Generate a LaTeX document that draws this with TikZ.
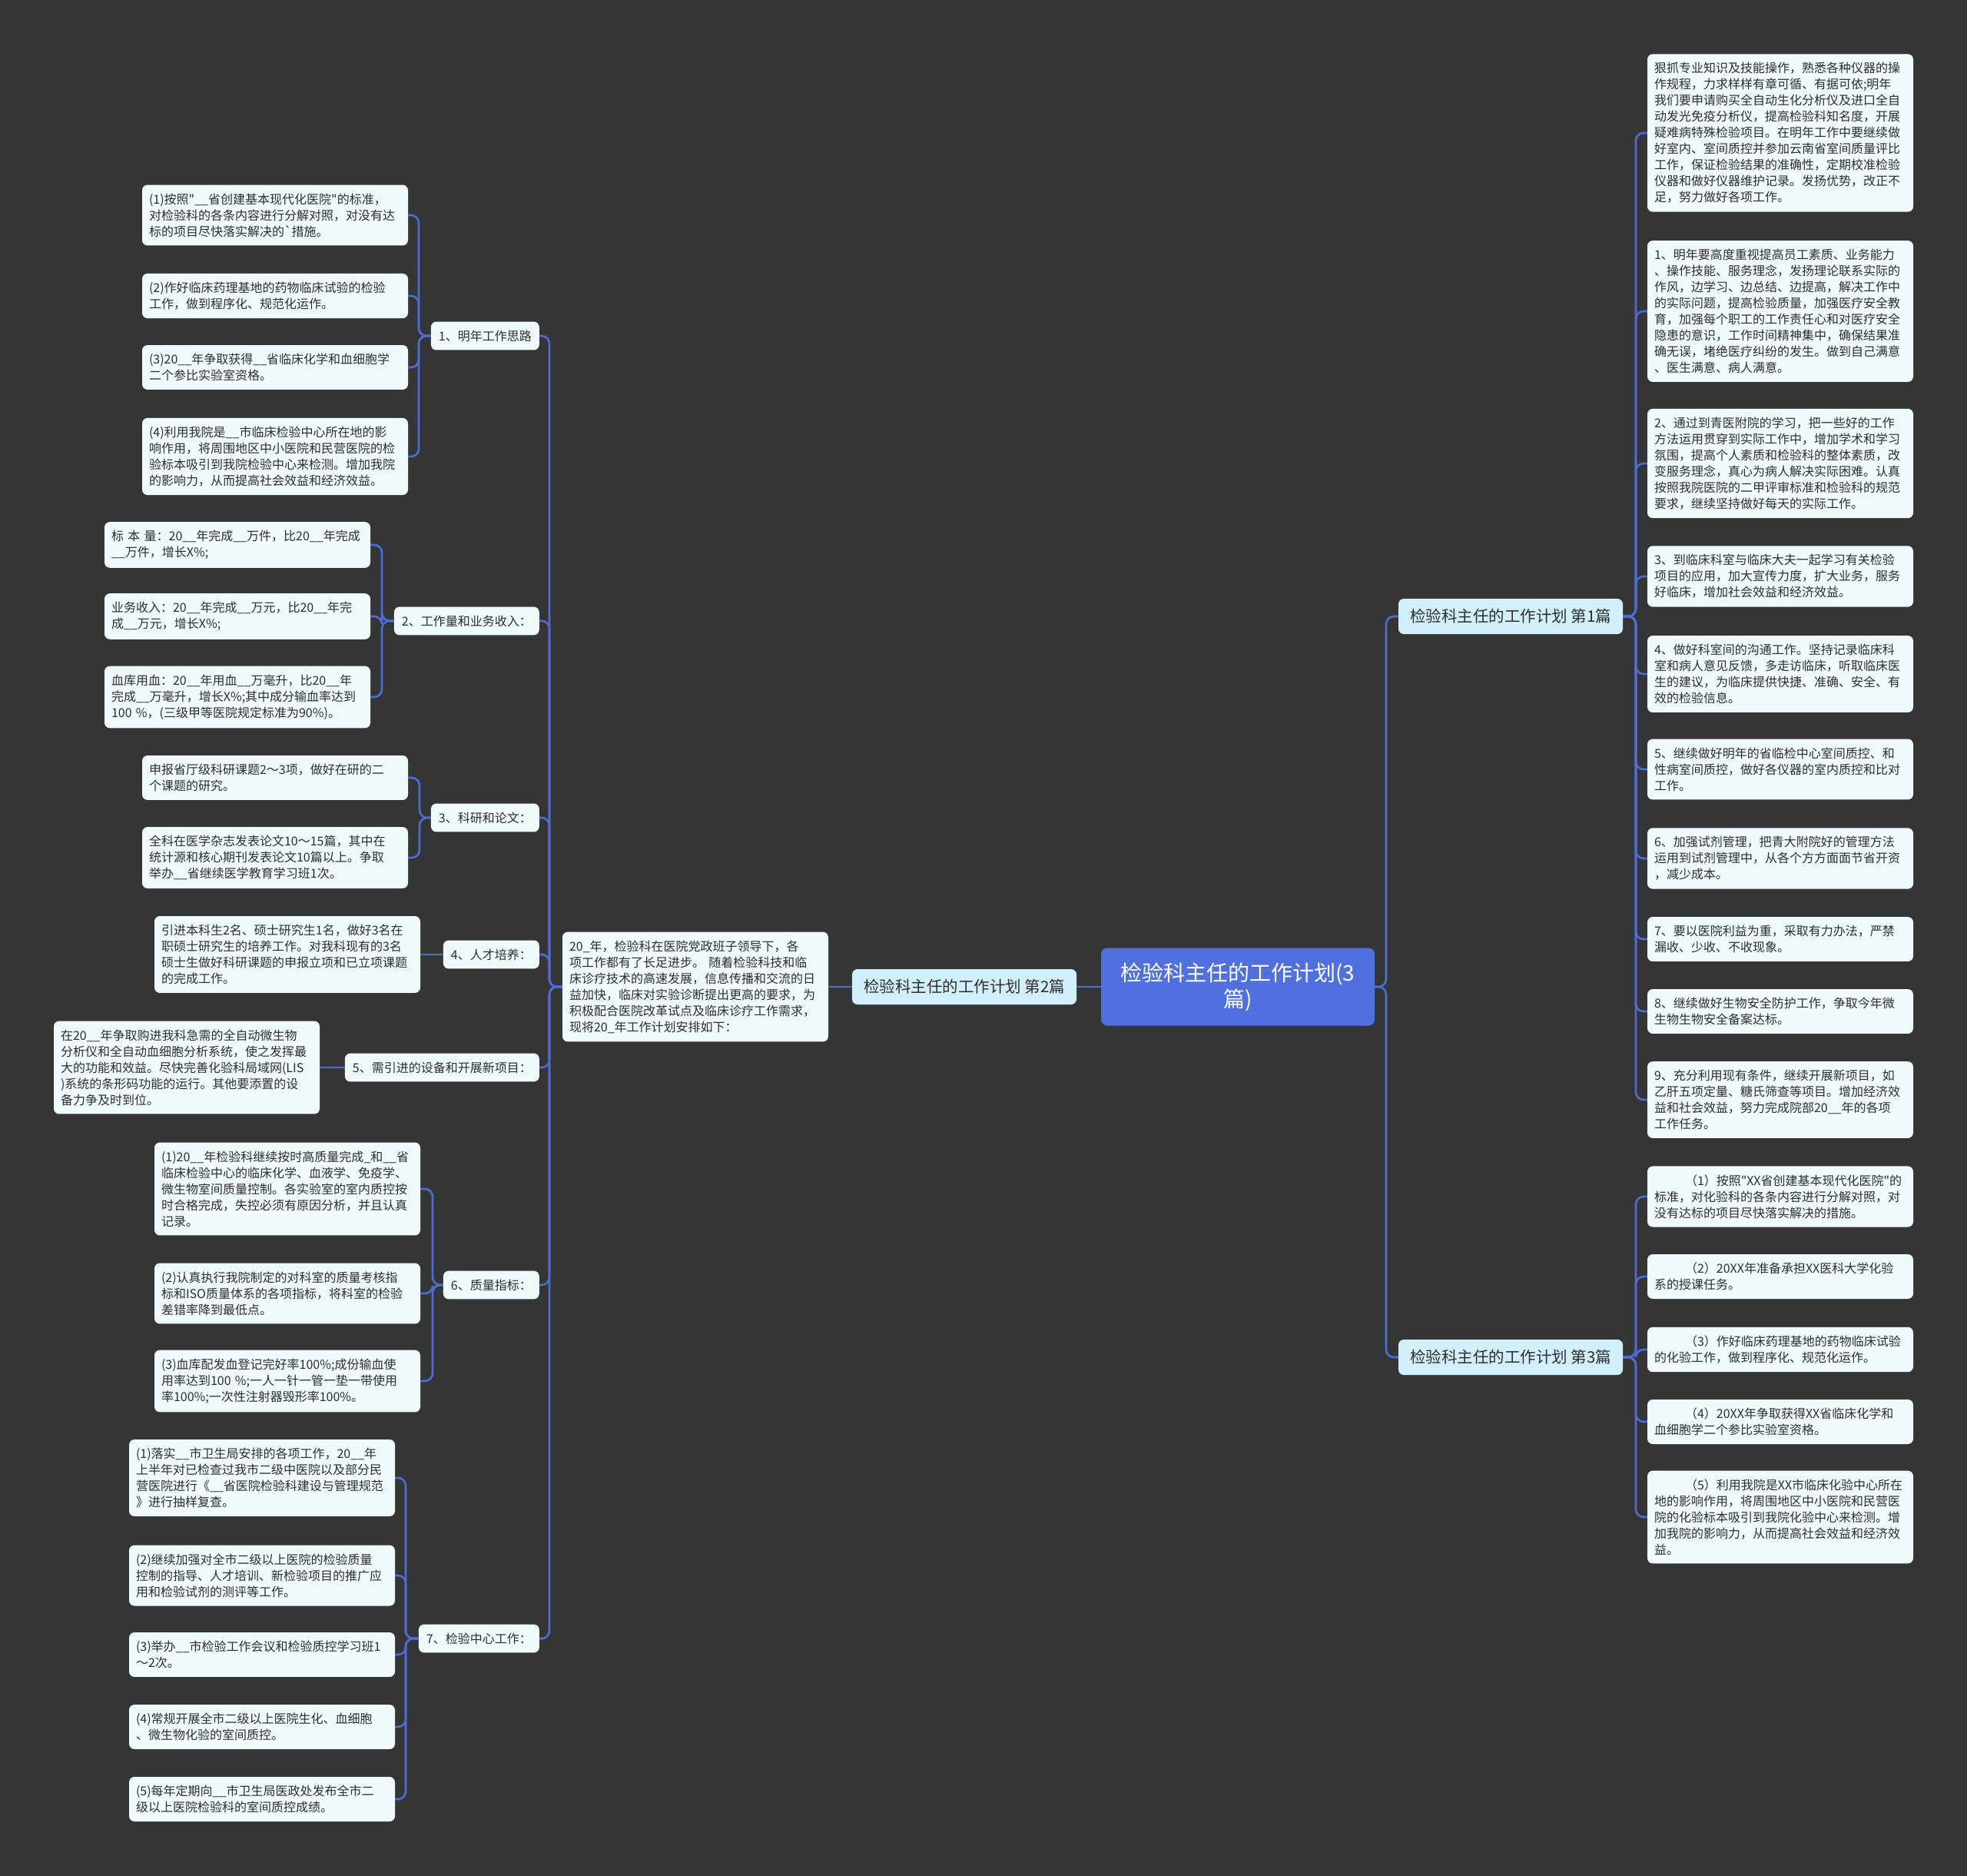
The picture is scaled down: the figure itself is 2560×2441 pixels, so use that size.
\documentclass[tikz,border=0pt]{standalone}
\usepackage{fontspec}
\setmainfont{Noto Sans CJK SC}
\newfontfamily\cjkfont{Noto Sans CJK SC}
\usepackage{tikz}
\usepackage{xcolor}
\definecolor{bgdark}{RGB}{54,53,53}
\definecolor{leaffill}{RGB}{240,250,252}
\definecolor{branchfill}{RGB}{210,240,251}
\definecolor{rootblue}{RGB}{80,112,224}
\definecolor{linkblue}{RGB}{76,108,214}
\definecolor{inktext}{RGB}{45,45,45}
\newcommand\leaffont{\cjkfont\fontsize{16}{21}\selectfont\hyphenpenalty=10000}
\newcommand\branchfont{\cjkfont\fontsize{20.5}{24}\selectfont}
\newcommand\rootfont{\cjkfont\fontsize{28}{34}\selectfont}

\begin{document}
\begin{tikzpicture}[x=1pt, y=-1pt, leaf/.style={fill=leaffill,text=inktext,rounded corners=7pt,text width=328pt,align=left,inner xsep=9pt,inner ysep=11pt,font=\leaffont}, topic/.style={fill=leaffill,text=inktext,rounded corners=7pt,inner xsep=10pt,inner ysep=11pt,font=\leaffont,anchor=east}, branch/.style={fill=branchfill,text=inktext,rounded corners=7pt,minimum width=292pt,minimum height=46pt,font=\branchfont}, root/.style={fill=rootblue,text=white,rounded corners=8pt,minimum width=356pt,minimum height=101pt,align=center,font=\rootfont}, link/.style={draw=linkblue,line width=2.6pt,rounded corners=10pt}]
  \useasboundingbox (0,0) rectangle (2560,2441);
  \fill[bgdark] (0,0) rectangle (2560,2441);
  % trunks and brackets
  \coordinate (ltrunk) at (715,0); \coordinate (rtrunk) at (1804,0);
  \coordinate (g1) at (545,0); \coordinate (g2) at (497,0); \coordinate (g3) at (546,0);
  \coordinate (g6) at (563,0); \coordinate (g7) at (528,0); \coordinate (gr) at (2129,0);
  % centre
  \node[root] (root) at (1611,1284) {检验科主任的工作计划(3\\篇)};
  \node[branch] (plan2) at (1255,1284) {检验科主任的工作计划 第2篇};
  \node[branch] (plan1) at (1966,802) {检验科主任的工作计划 第1篇};
  \node[branch] (plan3) at (1966,1766) {检验科主任的工作计划 第3篇};
  \node[leaf] (intro) at (905,1284) {20\_年，检验科在医院党政班子领导下，各\\项工作都有了长足进步。~随着检验科技和临\\床诊疗技术的高速发展，信息传播和交流的日\\益加快，临床对实验诊断提出更高的要求，为\\积极配合医院改革试点及临床诊疗工作需求，\\现将20\_年工作计划安排如下：};
  % left topics
  \node[topic] (idea) at (702,437) {1、明年工作思路};
  \node[topic] (load) at (702,808) {2、工作量和业务收入：};
  \node[topic] (res) at (702,1064) {3、科研和论文：};
  \node[topic] (tal) at (702,1242) {4、人才培养：};
  \node[topic] (equ) at (702,1389) {5、需引进的设备和开展新项目：};
  \node[topic] (qual) at (702,1672) {6、质量指标：};
  \node[topic] (cen) at (702,2132) {7、检验中心工作：};
  % left leaves
  \node[leaf] (idea1) at (358,280) {(1)按照"\_\_省创建基本现代化医院"的标准，\\对检验科的各条内容进行分解对照，对没有达\\标的项目尽快落实解决的`措施。};
  \node[leaf] (idea2) at (358,385) {(2)作好临床药理基地的药物临床试验的检验\\工作，做到程序化、规范化运作。};
  \node[leaf] (idea3) at (358,478) {(3)20\_\_年争取获得\_\_省临床化学和血细胞学\\二个参比实验室资格。};
  \node[leaf] (idea4) at (358,594) {(4)利用我院是\_\_市临床检验中心所在地的影\\响作用，将周围地区中小医院和民营医院的检\\验标本吸引到我院检验中心来检测。增加我院\\的影响力，从而提高社会效益和经济效益。};
  \node[leaf] (load1) at (309,709) {标~本~量：20\_\_年完成\_\_万件，比20\_\_年完成\\\_\_万件，增长X\%;};
  \node[leaf] (load2) at (309,802) {业务收入：20\_\_年完成\_\_万元，比20\_\_年完\\成\_\_万元，增长X\%;};
  \node[leaf] (load3) at (309,907) {血库用血：20\_\_年用血\_\_万毫升，比20\_\_年\\完成\_\_万毫升，增长X\%;其中成分输血率达到\\100~\%，(三级甲等医院规定标准为90\%)。};
  \node[leaf] (res1) at (358,1012) {申报省厅级科研课题2～3项，做好在研的二\\个课题的研究。};
  \node[leaf] (res2) at (358,1116) {全科在医学杂志发表论文10～15篇，其中在\\统计源和核心期刊发表论文10篇以上。争取\\举办\_\_省继续医学教育学习班1次。};
  \node[leaf] (tal1) at (374,1242) {引进本科生2名、硕士研究生1名，做好3名在\\职硕士研究生的培养工作。对我科现有的3名\\硕士生做好科研课题的申报立项和已立项课题\\的完成工作。};
  \node[leaf] (equ1) at (243,1389) {在20\_\_年争取购进我科急需的全自动微生物\\分析仪和全自动血细胞分析系统，使之发挥最\\大的功能和效益。尽快完善化验科局域网(LIS\\)系统的条形码功能的运行。其他要添置的设\\备力争及时到位。};
  \node[leaf] (qual1) at (374,1547) {(1)20\_\_年检验科继续按时高质量完成\_和\_\_省\\临床检验中心的临床化学、血液学、免疫学、\\微生物室间质量控制。各实验室的室内质控按\\时合格完成，失控必须有原因分析，并且认真\\记录。};
  \node[leaf] (qual2) at (374,1683) {(2)认真执行我院制定的对科室的质量考核指\\标和ISO质量体系的各项指标，将科室的检验\\差错率降到最低点。};
  \node[leaf] (qual3) at (374,1797) {(3)血库配发血登记完好率100\%;成份输血使\\用率达到100~\%;一人一针一管一垫一带使用\\率100\%;一次性注射器毁形率100\%。};
  \node[leaf] (cen1) at (341,1923) {(1)落实\_\_市卫生局安排的各项工作，20\_\_年\\上半年对已检查过我市二级中医院以及部分民\\营医院进行《\_\_省医院检验科建设与管理规范\\》进行抽样复查。};
  \node[leaf] (cen2) at (341,2050) {(2)继续加强对全市二级以上医院的检验质量\\控制的指导、人才培训、新检验项目的推广应\\用和检验试剂的测评等工作。};
  \node[leaf] (cen3) at (341,2153) {(3)举办\_\_市检验工作会议和检验质控学习班1\\～2次。};
  \node[leaf] (cen4) at (341,2247) {(4)常规开展全市二级以上医院生化、血细胞\\、微生物化验的室间质控。};
  \node[leaf] (cen5) at (341,2341) {(5)每年定期向\_\_市卫生局医政处发布全市二\\级以上医院检验科的室间质控成绩。};
  % right leaves, plan 1
  \node[leaf] (pa1) at (2317,173) {狠抓专业知识及技能操作，熟悉各种仪器的操\\作规程，力求样样有章可循、有据可依;明年\\我们要申请购买全自动生化分析仪及进口全自\\动发光免疫分析仪，提高检验科知名度，开展\\疑难病特殊检验项目。在明年工作中要继续做\\好室内、室间质控并参加云南省室间质量评比\\工作，保证检验结果的准确性，定期校准检验\\仪器和做好仪器维护记录。发扬优势，改正不\\足，努力做好各项工作。};
  \node[leaf] (pa2) at (2317,405) {1、明年要高度重视提高员工素质、业务能力\\、操作技能、服务理念，发扬理论联系实际的\\作风，边学习、边总结、边提高，解决工作中\\的实际问题，提高检验质量，加强医疗安全教\\育，加强每个职工的工作责任心和对医疗安全\\隐患的意识，工作时间精神集中，确保结果准\\确无误，堵绝医疗纠纷的发生。做到自己满意\\、医生满意、病人满意。};
  \node[leaf] (pa3) at (2317,603) {2、通过到青医附院的学习，把一些好的工作\\方法运用贯穿到实际工作中，增加学术和学习\\氛围，提高个人素质和检验科的整体素质，改\\变服务理念，真心为病人解决实际困难。认真\\按照我院医院的二甲评审标准和检验科的规范\\要求，继续坚持做好每天的实际工作。};
  \node[leaf] (pa4) at (2317,750) {3、到临床科室与临床大夫一起学习有关检验\\项目的应用，加大宣传力度，扩大业务，服务\\好临床，增加社会效益和经济效益。};
  \node[leaf] (pa5) at (2317,877) {4、做好科室间的沟通工作。坚持记录临床科\\室和病人意见反馈，多走访临床，听取临床医\\生的建议，为临床提供快捷、准确、安全、有\\效的检验信息。};
  \node[leaf] (pa6) at (2317,1001) {5、继续做好明年的省临检中心室间质控、和\\性病室间质控，做好各仪器的室内质控和比对\\工作。};
  \node[leaf] (pa7) at (2317,1117) {6、加强试剂管理，把青大附院好的管理方法\\运用到试剂管理中，从各个方方面面节省开资\\，减少成本。};
  \node[leaf] (pa8) at (2317,1222) {7、要以医院利益为重，采取有力办法，严禁\\漏收、少收、不收现象。};
  \node[leaf] (pa9) at (2317,1316) {8、继续做好生物安全防护工作，争取今年微\\生物生物安全备案达标。};
  \node[leaf] (pa10) at (2317,1431) {9、充分利用现有条件，继续开展新项目，如\\乙肝五项定量、糖氏筛查等项目。增加经济效\\益和社会效益，努力完成院部20\_\_年的各项\\工作任务。};
  % right leaves, plan 3
  \node[leaf] (pc1) at (2317,1557) {\hspace*{2.5em}（1）按照"XX省创建基本现代化医院"的\\标准，对化验科的各条内容进行分解对照，对\\没有达标的项目尽快落实解决的措施。};
  \node[leaf] (pc2) at (2317,1661) {\hspace*{2.5em}（2）20XX年准备承担XX医科大学化验\\系的授课任务。};
  \node[leaf] (pc3) at (2317,1756) {\hspace*{2.5em}（3）作好临床药理基地的药物临床试验\\的化验工作，做到程序化、规范化运作。};
  \node[leaf] (pc4) at (2317,1850) {\hspace*{2.5em}（4）20XX年争取获得XX省临床化学和\\血细胞学二个参比实验室资格。};
  \node[leaf] (pc5) at (2317,1974) {\hspace*{2.5em}（5）利用我院是XX市临床化验中心所在\\地的影响作用，将周围地区中小医院和民营医\\院的化验标本吸引到我院化验中心来检测。增\\加我院的影响力，从而提高社会效益和经济效\\益。};
  % connectors, centre
  \draw[link] (root.west)--(plan2.east); \draw[link] (plan2.west)--(intro.east);
  \draw[link] (root.east)--(root.east -| rtrunk) |- (plan1.west); \draw[link] (root.east)--(root.east -| rtrunk) |- (plan3.west);
  % connectors, left
  \draw[link] (intro.west)--(intro.west -| ltrunk) |- (idea.east); \draw[link] (intro.west)--(intro.west -| ltrunk) |- (load.east);
  \draw[link] (intro.west)--(intro.west -| ltrunk) |- (res.east); \draw[link] (intro.west)--(intro.west -| ltrunk) |- (tal.east);
  \draw[link] (intro.west)--(intro.west -| ltrunk) |- (equ.east); \draw[link] (intro.west)--(intro.west -| ltrunk) |- (qual.east);
  \draw[link] (intro.west)--(intro.west -| ltrunk) |- (cen.east);
  \draw[link] (idea.west)--(idea.west -| g1) |- (idea1.east); \draw[link] (idea.west)--(idea.west -| g1) |- (idea2.east);
  \draw[link] (idea.west)--(idea.west -| g1) |- (idea3.east); \draw[link] (idea.west)--(idea.west -| g1) |- (idea4.east);
  \draw[link] (load.west)--(load.west -| g2) |- (load1.east); \draw[link] (load.west)--(load.west -| g2) |- (load2.east);
  \draw[link] (load.west)--(load.west -| g2) |- (load3.east);
  \draw[link] (res.west)--(res.west -| g3) |- (res1.east); \draw[link] (res.west)--(res.west -| g3) |- (res2.east);
  \draw[link] (tal.west)--(tal1.east); \draw[link] (equ.west)--(equ1.east);
  \draw[link] (qual.west)--(qual.west -| g6) |- (qual1.east); \draw[link] (qual.west)--(qual.west -| g6) |- (qual2.east);
  \draw[link] (qual.west)--(qual.west -| g6) |- (qual3.east);
  \draw[link] (cen.west)--(cen.west -| g7) |- (cen1.east); \draw[link] (cen.west)--(cen.west -| g7) |- (cen2.east);
  \draw[link] (cen.west)--(cen.west -| g7) |- (cen3.east); \draw[link] (cen.west)--(cen.west -| g7) |- (cen4.east);
  \draw[link] (cen.west)--(cen.west -| g7) |- (cen5.east);
  % connectors, right
  \draw[link] (plan1.east)--(plan1.east -| gr) |- (pa1.west); \draw[link] (plan1.east)--(plan1.east -| gr) |- (pa2.west);
  \draw[link] (plan1.east)--(plan1.east -| gr) |- (pa3.west); \draw[link] (plan1.east)--(plan1.east -| gr) |- (pa4.west);
  \draw[link] (plan1.east)--(plan1.east -| gr) |- (pa5.west); \draw[link] (plan1.east)--(plan1.east -| gr) |- (pa6.west);
  \draw[link] (plan1.east)--(plan1.east -| gr) |- (pa7.west); \draw[link] (plan1.east)--(plan1.east -| gr) |- (pa8.west);
  \draw[link] (plan1.east)--(plan1.east -| gr) |- (pa9.west); \draw[link] (plan1.east)--(plan1.east -| gr) |- (pa10.west);
  \draw[link] (plan3.east)--(plan3.east -| gr) |- (pc1.west); \draw[link] (plan3.east)--(plan3.east -| gr) |- (pc2.west);
  \draw[link] (plan3.east)--(plan3.east -| gr) |- (pc3.west); \draw[link] (plan3.east)--(plan3.east -| gr) |- (pc4.west);
  \draw[link] (plan3.east)--(plan3.east -| gr) |- (pc5.west);
\end{tikzpicture}
\end{document}
